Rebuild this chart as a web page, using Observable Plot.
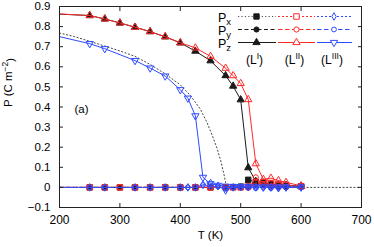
<!DOCTYPE html>
<html><head><meta charset="utf-8">
<script src="https://cdn.jsdelivr.net/npm/d3@7"></script>
<script src="https://cdn.jsdelivr.net/npm/@observablehq/plot@0.6"></script>
<style>
body{margin:0;background:#fff;font-family:"Liberation Sans",Arial,sans-serif}
#wrap{position:relative;width:374px;height:247px}
#leg{position:absolute;left:0;top:0;pointer-events:none}
</style>
</head><body><div id="wrap"></div>
<script>
// ---------- data ----------
const xTicks = [200,300,400,500,600,700];
const yTicks = [-0.1,0,0.1,0.2,0.3,0.4,0.5,0.6,0.7,0.8,0.9];

// lines are drawn from the left edge (T = 200 K)
const T_start = 200;
const PzI_start = 0.862, PzII_start = 0.863, PzIII_start = 0.750, Pxy_start = 0;

// L^I and L^II sample temperatures
const T_I = [250,275,300,325,350,375,400,425,450,475,487.5,500,512.5,525,537.5,550,562.5,575,600];
const PxI = [0,0,0,0,0,0,0,0,0,0,0.002,0.004,0.038,0.028,0.022,0.016,0.013,0.010,0.006];
const PyI = [0,0,0,0,0,0,0,0,0,0,0,0,0.004,0.012,0.010,0.006,0.004,0.002,0.002];
const PzI = [0.855,0.838,0.818,0.797,0.775,0.749,0.719,0.678,0.630,0.556,0.504,0.436,0.098,0.030,0.022,0.016,0.012,0.010,0.006];

const PxII = [0,0,0,0,0,0,0,0,0,0,0,0,0.005,0.022,0.026,0.018,0.014,0.012,0.006];
const PyII = [0,0,0,0,0,0,0,0,0,0,0,0,-0.002,0.050,0.010,0.004,0,0,0];
const PzII = [0.855,0.838,0.818,0.797,0.775,0.750,0.720,0.694,0.652,0.593,0.556,0.517,0.437,0.118,0.040,0.046,0.034,0.025,0.008];

// L^III sample temperatures
const T_III = [250,275,325,350,375,400,412.5,425,437.5,450,462.5,475,487.5,500,512.5,525,537.5,550,562.5,575,600];
const PxIII = [0,0,0,0,0,0,0,0,0.012,0.022,0.008,-0.015,0,0.002,0.002,0,0,0,-0.004,0,0];
const PyIII = [0,0,0,0,0,0,0,0,0.012,0.004,0.004,-0.008,0,0,0,-0.004,0,-0.004,0,0,0];
const PzIII = [0.715,0.690,0.631,0.594,0.554,0.486,0.444,0.356,0.050,0.018,0.010,0.006,0.004,0.004,0.003,0.003,0.002,0.002,0.002,0.002,0.002];

// dotted reference curve
const T_curve = [200,225,250,275,300,325,350,375,400,417,433,444,453,461,467.5,472,475,476.5,700];
const P_curve = [0.768,0.750,0.727,0.703,0.679,0.652,0.612,0.565,0.510,0.456,0.390,0.324,0.258,0.193,0.126,0.069,0.025,0,0];

// ---------- build tables ----------
const pts = (T, P) => T.map((t, i) => ({T: t, P: P[i]}));
const ln = (T, P, p0) => [{T: T_start, P: p0}, ...pts(T, P)];

const BLACK = "#1a1a1a", RED = "#ff2a2a", BLUE = "#2f4bff";
const series = [
  {T: T_I, P: PxI, p0: Pxy_start, color: BLACK, dash: "1.2,2.2", symbol: "square", fill: true, r: 3},
  {T: T_I, P: PyI, p0: Pxy_start, color: BLACK, dash: "4,2.5", symbol: "circle", fill: true, r: 2.6},
  {T: T_I, P: PzI, p0: PzI_start, color: BLACK, dash: null, symbol: "triangle", fill: true, r: 2.7},
  {T: T_I, P: PxII, p0: Pxy_start, color: RED, dash: "2,2", symbol: "square", fill: false, r: 3.1},
  {T: T_I, P: PyII, p0: Pxy_start, color: RED, dash: "4.5,2.5", symbol: "circle", fill: false, r: 2.6},
  {T: T_I, P: PzII, p0: PzII_start, color: RED, dash: null, symbol: "triangle", fill: false, r: 2.7},
  {T: T_III, P: PxIII, p0: Pxy_start, color: BLUE, dash: "2,2", symbol: "diamond", fill: false, r: 2.3},
  {T: T_III, P: PyIII, p0: Pxy_start, color: BLUE, dash: "4.5,2.5", symbol: "circle", fill: false, r: 2.4},
  {T: T_III, P: PzIII, p0: PzIII_start, color: BLUE, dash: null, symbol: "triangle", fill: false, r: 2.7, rotate: 180}
];

const marks = [
  Plot.line(pts(T_curve, P_curve), {x: "T", y: "P", stroke: "#444", strokeWidth: 1, strokeDasharray: "1.2,2.4"})
];
for (const s of series) {
  marks.push(Plot.line(ln(s.T, s.P, s.p0), {x: "T", y: "P", stroke: s.color, strokeWidth: 1, strokeDasharray: s.dash || undefined}));
  marks.push(Plot.dot(pts(s.T, s.P), {x: "T", y: "P", symbol: () => s.symbol, r: s.r, rotate: s.rotate || 0,
    stroke: s.color, strokeWidth: 1, fill: s.fill ? s.color : "none"}));
}

const yFmt = d => d === 0 ? "0" : (d < 0 ? "\u2212" + Math.abs(d).toFixed(1) : d.toFixed(1));

marks.push(
  Plot.frame({stroke: "#222", strokeWidth: 1}),
  Plot.axisX(xTicks, {anchor: "bottom", tickSize: -4, tickPadding: 12, fontSize: 12, label: null, stroke: "#222"}),
  Plot.axisX(xTicks, {anchor: "top", tickSize: -4, tickFormat: () => "", label: null, stroke: "#222"}),
  Plot.axisY(yTicks, {anchor: "left", tickSize: -4, tickPadding: 13, fontSize: 11.5, tickFormat: yFmt, label: null, stroke: "#222"}),
  Plot.axisY(yTicks, {anchor: "right", tickSize: -4, tickFormat: () => "", label: null, stroke: "#222"}),
  Plot.text(["T (K)"], {frameAnchor: "bottom", dy: 31, fontSize: 11.5, fill: "#000"}),
  Plot.text(["P (C m-2)"], {frameAnchor: "left", dx: -51, rotate: -90, fontSize: 11.5, fill: "#000"}),
  Plot.text(["(a)"], {frameAnchor: "left", dx: 15, dy: 2, textAnchor: "start", fontSize: 11.5, fill: "#000"})
);

const chart = Plot.plot({
  width: 374, height: 247,
  marginLeft: 59, marginRight: 13, marginTop: 6, marginBottom: 40,
  style: {fontFamily: "'Liberation Sans', Arial, sans-serif", background: "#fff", color: "#000"},
  x: {domain: [200, 700]},
  y: {domain: [-0.1, 0.9]},
  marks
});
const wrap = document.getElementById("wrap");
wrap.appendChild(chart);

// superscript on y label
d3.select(chart).selectAll("text").each(function() {
  const t = d3.select(this);
  if (t.text() === "P (C m-2)") {
    t.text("");
    t.append("tspan").text("P (C m");
    t.append("tspan").attr("dy", "-0.45em").attr("font-size", "8.5px").text("\u22122");
    t.append("tspan").attr("dy", "0.45em").text(")");
  }
});

// ---------- legend overlay ----------
const legRows = [
  {sub: "x", idx: [0, 3, 6]},
  {sub: "y", idx: [1, 4, 7]},
  {sub: "z", idx: [2, 5, 8]}
];
const rowY = [16.5, 29.5, 42.5];
const cols = [{x1: 238, x2: 276, m: 256.5, lab: "I"}, {x1: 278, x2: 315, m: 296.5, lab: "II"}, {x1: 317, x2: 352, m: 334, lab: "III"}];
const symMap = {square: d3.symbolSquare, circle: d3.symbolCircle, triangle: d3.symbolTriangle, diamond: d3.symbolDiamond};

const leg = d3.select(wrap).append("svg").attr("id", "leg").attr("width", 374).attr("height", 247)
  .style("font-family", "'Liberation Sans', Arial, sans-serif");
legRows.forEach((row, ri) => {
  const y = rowY[ri];
  const tx = leg.append("text").attr("x", 218).attr("y", y + 5).attr("font-size", 12.5).attr("fill", "#000");
  tx.append("tspan").text("P");
  tx.append("tspan").attr("dy", 3).attr("font-size", 9.5).text(row.sub);
  row.idx.forEach((si, ci) => {
    const s = series[si], c = cols[ci];
    leg.append("line").attr("x1", c.x1).attr("x2", c.x2).attr("y1", y).attr("y2", y)
      .attr("stroke", si === 0 ? "#555" : s.color).attr("stroke-width", 1)
      .attr("stroke-dasharray", s.dash || null);
    leg.append("path").attr("d", d3.symbol(symMap[s.symbol], Math.PI * s.r * s.r)())
      .attr("transform", `translate(${c.m},${y})` + (s.rotate ? ` rotate(${s.rotate})` : ""))
      .attr("fill", s.fill ? s.color : "#fff").attr("stroke", s.color).attr("stroke-width", 1);
  });
});
cols.forEach(c => {
  const t = leg.append("text").attr("x", c.m - 2).attr("y", 64).attr("font-size", 12).attr("text-anchor", "middle").attr("fill", "#000");
  t.append("tspan").text("(L");
  t.append("tspan").attr("dy", -5).attr("font-size", 8.5).text(c.lab);
  t.append("tspan").attr("dy", 5).text(")");
});
</script>
</body></html>
